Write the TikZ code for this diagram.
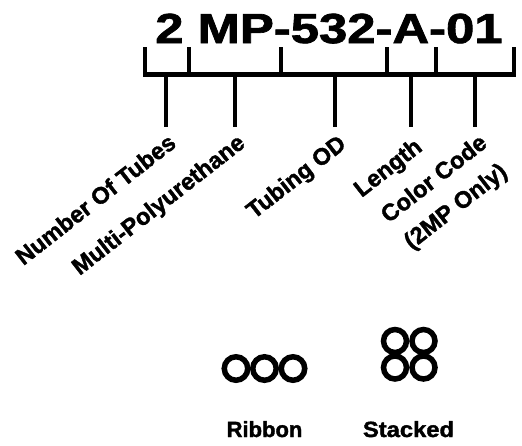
\documentclass[tikz,border=0pt]{standalone}
\usepackage{fontspec}
\setmainfont{Liberation Sans}
\newfontfamily\heavy{Liberation Sans}[UprightFont={* Bold}, FakeBold=1.6]
\usepackage{graphicx}
\begin{document}
\begin{tikzpicture}[x=1pt,y=-1pt,
  bar/.style={line width=4.5pt},
  leg/.style={line width=3.6pt},
  lab/.style={font=\heavy\fontsize{23.5}{35}\selectfont, inner sep=0pt, rotate=38, anchor=north east},
  ring/.style={circle, draw, line width=5.5pt, minimum size=23.5pt, inner sep=0pt},
  captext/.style={font=\heavy\fontsize{22}{22}\selectfont, inner sep=0pt, anchor=base}]
\useasboundingbox (0,0) rectangle (522,445);
% title
\node[anchor=base, inner sep=0pt, font=\heavy\fontsize{42}{42}\selectfont] (title) at (329,43) {\scalebox{1.21}[1]{2 MP-532-A-01}};
% bracket
\coordinate (t0) at (145,47);
\coordinate (t1) at (189,47);
\coordinate (t2) at (281,47);
\coordinate (t3) at (387,47);
\coordinate (t4) at (436,47);
\coordinate (t5) at (514,47);
\coordinate (b0) at (145,74.5);
\coordinate (b5) at (514,74.5);
\draw[bar, line join=miter] (t0) -- (b0) -- (b5) -- (t5);
\foreach \i in {1,2,3,4} \draw[bar] (t\i) -- (t\i |- b0);
% legs
\foreach \n/\x in {1/166,2/235,3/335,4/411,5/475} {
  \coordinate (u\n) at (\x,74.5);
  \coordinate (d\n) at (\x,127);
  \draw[leg] (u\n) -- (d\n);
}
% labels
\node[lab] (l1) at (167,132) {Number Of Tubes};
\node[lab] (l2) at (236,132) {Multi-Polyurethane};
\node[lab] (l3) at (337,133) {Tubing OD};
\node[lab] (l4) at (413,136) {Length};
\node[lab, align=center] (l5) at (478,132) {Color Code\\(2MP Only)};
% ribbon
\node[ring] (r1) at (236,368.5) {};
\node[ring] (r2) at (264.5,368.5) {};
\node[ring] (r3) at (293,368.5) {};
% stacked
\node[ring, minimum size=23pt] (s1) at (395,341) {};
\node[ring, minimum size=23pt] (s2) at (423.5,341) {};
\node[ring, minimum size=23pt] (s3) at (395,367.5) {};
\node[ring, minimum size=23pt] (s4) at (423.5,367.5) {};
\node[captext] (ribbon) at (264.5,437) {\scalebox{1.0}[1]{Ribbon}};
\node[captext] (stacked) at (408.5,437) {\scalebox{1.08}[1]{Stacked}};
\end{tikzpicture}
\end{document}
